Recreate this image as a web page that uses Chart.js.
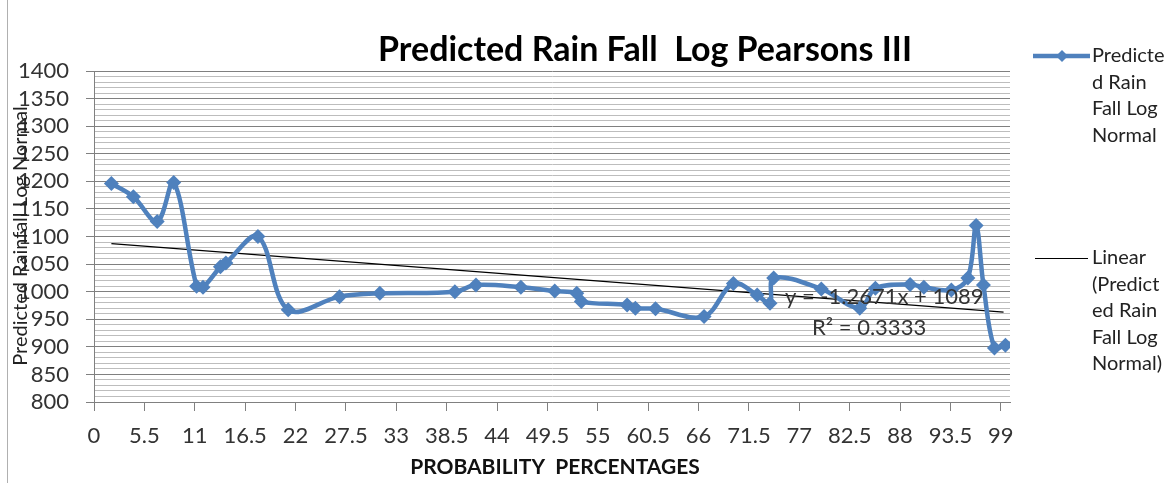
<!DOCTYPE html>
<html><head><meta charset="utf-8">
<script src="https://cdn.jsdelivr.net/npm/chart.js@4.4.1/dist/chart.umd.min.js"></script>
<style>html,body{margin:0;padding:0;background:#fff;} #wrap{position:relative;width:1174px;height:483px;} canvas{display:block}</style>
</head><body><div id="wrap"><canvas id="c" width="1174" height="483"></canvas></div>
<script>
const probability = [1.9,4.3,6.9,8.7,11.2,11.9,13.8,14.4,17.9,21.2,26.8,31.2,39.4,41.7,46.6,50.3,52.7,53.2,58.2,59.1,61.3,66.6,69.8,72.4,73.8,74.2,79.4,83.6,85.3,89.1,90.6,93.6,95.4,96.3,97.1,98.3,99.5];
const rainfall = [1196,1172,1127,1198,1010,1008,1045,1052,1100,967,991,997,1000,1012,1008,1001,997,982,976,970,969,955,1015,994,979,1025,1005,970,1006,1013,1008,1003,1025,1120,1012,898,903];
const trendX = [1.9, 99.3];
const trendY = [1087, 963];
const xTickLabels = [0,5.5,11,16.5,22,27.5,33,38.5,44,49.5,55,60.5,66,71.5,77,82.5,88,93.5,99];
const yTickLabels = [800,850,900,950,1000,1050,1100,1150,1200,1250,1300,1350,1400];
const yMinorStep = 10;
const seriesName = ['Predicte','d Rain','Fall Log','Normal'];
const trendName = ['Linear','(Predict','ed Rain','Fall Log','Normal)'];
const titleText = 'Predicted Rain Fall  Log Pearsons III';
const xTitle = 'PROBABILITY  PERCENTAGES';
const yTitle = 'Predicted Rainfall Log Normal';
const eqText = 'y = -1.2671x + 1089';
const r2Text = 'R\u00B2 = 0.3333';

const BLUE = '#4F81BD';
const FONT = 'Lato, "Open Sans", sans-serif';

const deco = {
  id: 'deco',
  beforeDraw(chart) {
    const c = chart.ctx;
    c.save();
    c.strokeStyle = '#b0b0b0'; c.lineWidth = 1;
    c.beginPath(); c.moveTo(7.5, 0); c.lineTo(7.5, 483); c.stroke();
    c.restore();
  },
  afterDraw(chart) {
    const c = chart.ctx;
    c.save();
    c.fillStyle = '#000';
    c.textBaseline = 'middle';
    c.textAlign = 'center';
    c.font = 'bold 34px ' + FONT;
    c.fillText(titleText, 645, 50);
    c.font = 'bold 21px ' + FONT;
    c.fillStyle = '#111';
    c.fillText(xTitle, 555, 467);
    c.save();
    c.translate(21, 236);
    c.rotate(-Math.PI / 2);
    c.font = '20px ' + FONT;
    c.fillStyle = '#222';
    c.fillText(yTitle, 0, 0);
    c.restore();
    // trendline label
    c.textAlign = 'left';
    c.fillStyle = '#333';
    c.font = '22px ' + FONT;
    c.fillText(eqText, 785, 297);
    c.fillText(r2Text, 812, 328);
    // legend
    c.strokeStyle = BLUE; c.lineWidth = 4.5;
    c.beginPath(); c.moveTo(1033, 56); c.lineTo(1090, 56); c.stroke();
    c.fillStyle = BLUE;
    c.beginPath(); c.moveTo(1062, 50); c.lineTo(1068, 56); c.lineTo(1062, 62); c.lineTo(1056, 56); c.closePath(); c.fill();
    c.strokeStyle = '#000'; c.lineWidth = 1;
    c.beginPath(); c.moveTo(1035, 258.5); c.lineTo(1088, 258.5); c.stroke();
    c.fillStyle = '#222';
    c.font = '20px ' + FONT;
    seriesName.forEach((t, i) => c.fillText(t, 1092, 56 + i * 26.5));
    trendName.forEach((t, i) => c.fillText(t, 1092, 258 + i * 26.5));
    c.restore();
  }
};

const mainData = probability.map((x, i) => ({x: x, y: rainfall[i]}));
const trendData = trendX.map((x, i) => ({x: x, y: trendY[i]}));

new Chart(document.getElementById('c'), {
  type: 'scatter',
  data: {
    datasets: [
      {
        label: 'Predicted Rain Fall Log Normal',
        data: mainData,
        showLine: true,
        borderColor: BLUE,
        backgroundColor: BLUE,
        borderWidth: 4.5,
        tension: 0.35,
        pointStyle: 'rectRot',
        pointRadius: 7.5,
        pointHoverRadius: 7.5,
        pointBorderWidth: 0
      },
      {
        label: 'Linear (Predicted Rain Fall Log Normal)',
        data: trendData,
        showLine: true,
        borderColor: '#000',
        borderWidth: 1.3,
        pointRadius: 0,
        tension: 0
      }
    ]
  },
  options: {
    responsive: false,
    animation: false,
    events: [],
    layout: {padding: {top: 71, right: 164, bottom: 0, left: 0}},
    plugins: {legend: {display: false}, title: {display: false}, tooltip: {enabled: false}},
    scales: {
      x: {
        type: 'linear', min: 0, max: 100,
        afterBuildTicks: s => { s.ticks = xTickLabels.map(v => ({value: v})); },
        afterFit: s => { s.height = 81; },
        ticks: {autoSkip: false, maxRotation: 0, padding: 12, color: '#333', font: {family: FONT, size: 22}, callback: v => String(v)},
        grid: {drawOnChartArea: false, tickLength: 9, color: '#808080'},
        border: {color: '#808080'}
      },
      y: {
        type: 'linear', min: 800, max: 1400,
        afterBuildTicks: s => {
          const t = [];
          for (let v = yTickLabels[0]; v <= yTickLabels[yTickLabels.length - 1]; v += yMinorStep) t.push({value: v});
          s.ticks = t;
        },
        afterFit: s => { s.width = 94; },
        ticks: {autoSkip: false, padding: 17, color: '#333', font: {family: FONT, size: 22},
          callback: v => (yTickLabels.includes(v) ? String(v) : '')},
        grid: {
          tickLength: 8,
          color: ctx => (ctx.tick && yTickLabels.includes(ctx.tick.value)) ? '#808080' : '#bdbdbd',
          tickColor: ctx => (ctx.tick && yTickLabels.includes(ctx.tick.value)) ? '#808080' : 'rgba(0,0,0,0)'
        },
        border: {color: '#808080'}
      }
    }
  },
  plugins: [deco]
});
</script>
</body></html>
